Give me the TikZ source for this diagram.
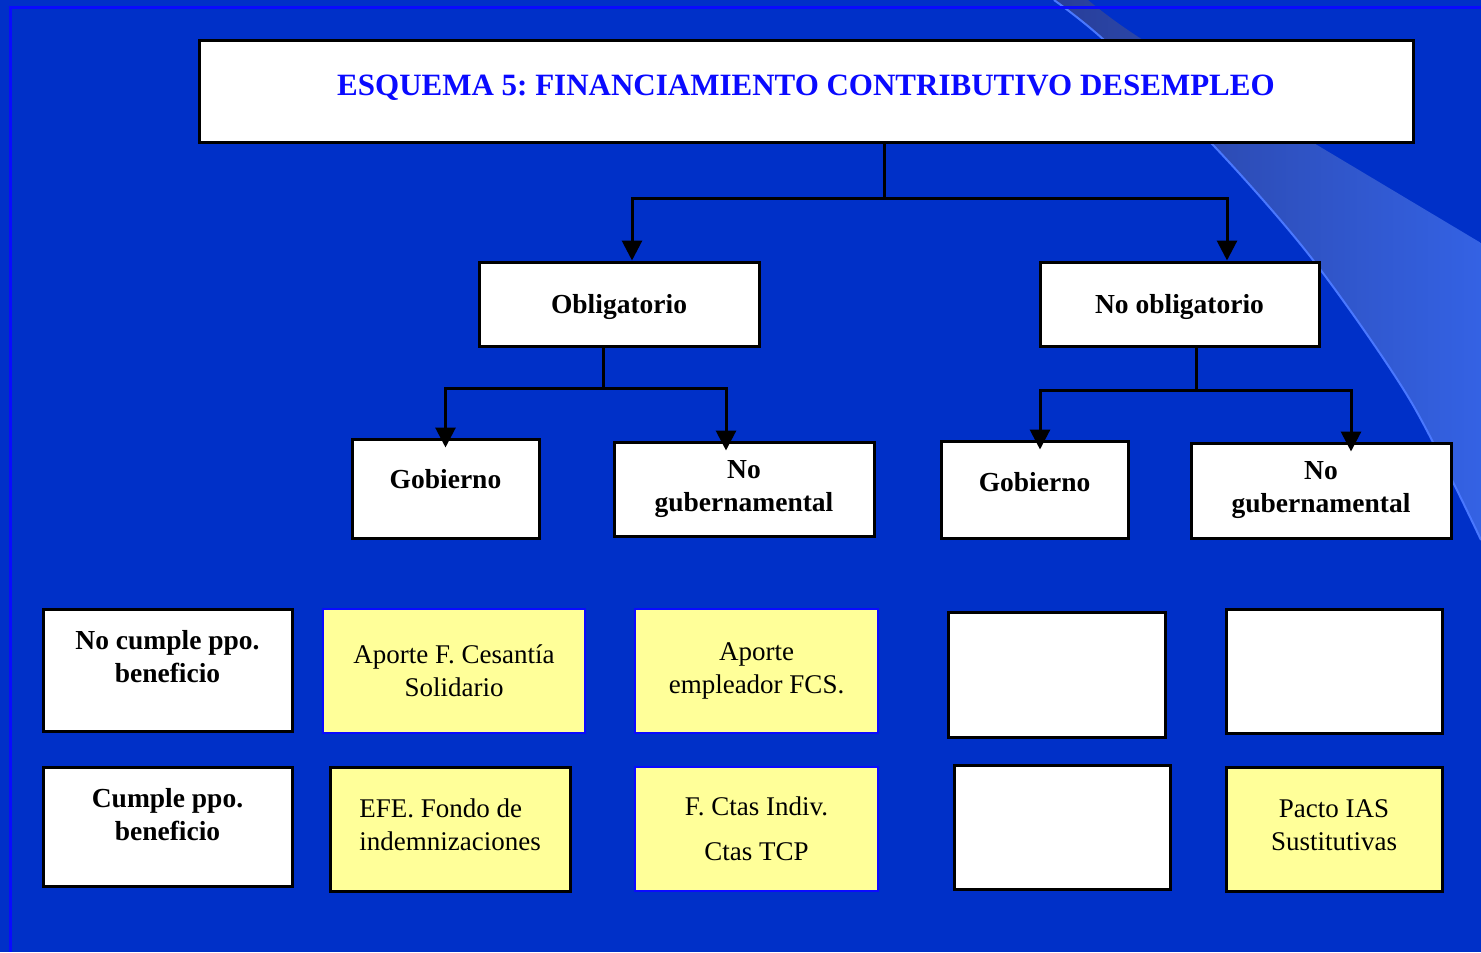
\documentclass[tikz,border=0pt]{standalone}
\usepackage{fontspec}
\setmainfont{Liberation Serif}
\usepackage{xcolor}
\usetikzlibrary{arrows.meta}
\frenchspacing

\definecolor{fondo}{HTML}{0030C8}
\definecolor{marco}{HTML}{0A0AFF}
\definecolor{amarillo}{HTML}{FFFF99}
\definecolor{franjaosc}{HTML}{283E98}
\definecolor{franjaclara}{HTML}{3462E4}
\definecolor{rayo}{HTML}{4A78FF}

\tikzset{
  caja/.style={draw=black, line width=1.5pt, fill=white, inner sep=0pt},
  amarilla/.style={caja, fill=amarillo},
  azul/.style={amarilla, draw=marco, line width=1.2pt},
  negrita/.style={font=\fontsize{13.75}{16.5}\selectfont\bfseries, align=center},
  normal/.style={font=\fontsize{13.5}{16.5}\selectfont, align=center},
  linea/.style={line width=1.5pt},
  flecha/.style={linea, -{Triangle[length=10pt,width=10pt]}},
}

\begin{document}
\begin{tikzpicture}[x=0.5pt,y=-0.5pt]
        \useasboundingbox (0,0) rectangle (1481,952);

        % Draw the background
        \fill[fondo] (0,0) rectangle (1481,952);
        \shade[left color=franjaosc, right color=franjaclara]
            plot[smooth] coordinates {(1054,0) (1104,40) (1213,145) (1313,260) (1410,400) (1481,540)}
            -- (1481,243)
            -- plot[smooth] coordinates {(1317,145) (1143,40) (1088,0)} -- cycle;
        \draw[rayo, line width=1pt]
            plot[smooth] coordinates {(1054,0) (1104,40) (1213,145) (1313,260) (1410,400) (1481,540)};
        \draw[marco, line width=1.5pt] (1481,8) -- (10,8) -- (10,952);

        % Draw the title
        \node[caja, minimum width=607pt, minimum height=51pt, text=marco,
              font=\fontsize{15.5}{18}\selectfont\bfseries,
              text height=10.5pt, text depth=6.5pt] (titulo) at (806,92)
              {ESQUEMA 5: FINANCIAMIENTO CONTRIBUTIVO DESEMPLEO};

        % Draw the first level
        \node[caja, negrita, text depth=0pt, minimum width=140pt, minimum height=42pt] (obl) at (619,304) {Obligatorio};
        \node[caja, negrita, text depth=0pt, minimum width=139.5pt, minimum height=42pt] (noobl) at (1179.5,304) {No obligatorio};

        % Draw the second level
        \node[caja, negrita, text depth=10pt, minimum width=93.5pt, minimum height=49.5pt] (gobL) at (445.5,488.5) {Gobierno};
        \node[caja, negrita, minimum width=130pt, minimum height=47pt] (ngL) at (744,489) {No\\gubernamental};
        \node[caja, negrita, text depth=8pt, minimum width=93.5pt, minimum height=48.5pt] (gobR) at (1034.5,489.5) {Gobierno};
        \node[caja, negrita, minimum width=130pt, minimum height=47.5pt] (ngR) at (1321,490.5) {No\\gubernamental};

        % Draw the table rows
        \node[caja, minimum width=124.5pt, minimum height=61pt] (nocumple) at (167.5,670) {};
        \node[negrita] (nocumpleT) at (167.5,657) {No cumple ppo.\\beneficio};
        \node[azul, normal, minimum width=131pt, minimum height=62pt] (cesantia) at (454,671) {Aporte F. Cesantía\\Solidario};
        \node[azul, normal, minimum width=121.5pt, minimum height=62pt] (empleador) at (756.5,671) {Aporte\\empleador FCS.};
        \node[caja, minimum width=108.5pt, minimum height=62.5pt] (vacioA) at (1056.5,674.5) {};
        \node[caja, minimum width=108pt, minimum height=62pt] (vacioB) at (1334,671) {};

        \node[caja, minimum width=124.5pt, minimum height=59.5pt] (cumple) at (167.5,826.5) {};
        \node[negrita] (cumpleT) at (167.5,815) {Cumple ppo.\\beneficio};
        \node[amarilla, minimum width=120pt, minimum height=62pt] (efe) at (450,829) {};
        \node[normal, align=left] (efeT) at (450,825) {EFE. Fondo de\\indemnizaciones};
        \node[azul, normal, minimum width=121.5pt, minimum height=62pt] (ctas) at (756.5,829) {F. Ctas Indiv.\\[6pt]Ctas TCP};
        \node[caja, minimum width=108pt, minimum height=62pt] (vacioC) at (1062,827) {};
        \node[amarilla, minimum width=108pt, minimum height=62pt] (pacto) at (1334,829) {};
        \node[normal] (pactoT) at (1334,825) {Pacto IAS\\Sustitutivas};

        % Connect title to first level
        \coordinate (t) at (884,199);
        \draw[linea] (titulo.south -| t) -- (t);
        \draw[flecha] (t) -| ([xshift=6.5pt]obl.north);
        \draw[flecha] (t) -| ([xshift=23.75pt]noobl.north);

        % Connect first level to second level
        \coordinate (o) at (603,388);
        \draw[linea] (obl.south -| o) -- (o);
        \draw[flecha, shorten >=-5pt] (o) -| (gobL.north);
        \draw[flecha, shorten >=-5pt] (o) -| ([xshift=-9pt]ngL.north);

        \coordinate (n) at (1196,390);
        \draw[linea] (noobl.south -| n) -- (n);
        \draw[flecha, shorten >=-5pt] (n) -| ([xshift=2.75pt]gobR.north);
        \draw[flecha, shorten >=-5pt] (n) -| ([xshift=15pt]ngR.north);
    \end{tikzpicture}
\end{document}
